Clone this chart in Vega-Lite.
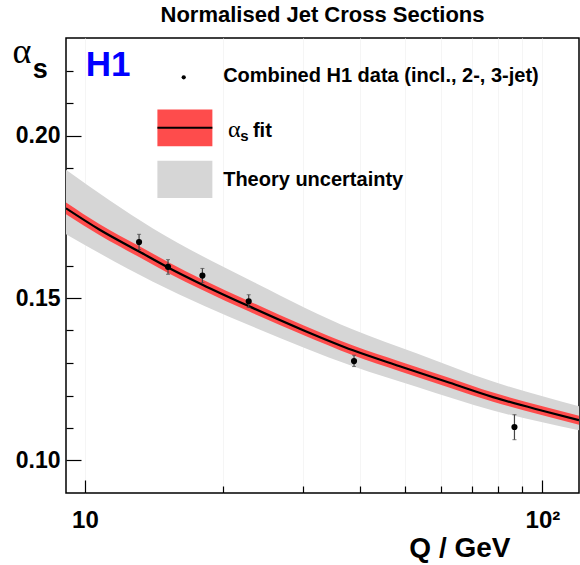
{
  "$schema": "https://vega.github.io/schema/vega-lite/v6.json",
  "width": 513,
  "height": 455,
  "autosize": {"type": "none"},
  "padding": {"left": 66, "top": 38, "right": 1, "bottom": 72},
  "background": "white",
  "config": {
    "view": {"stroke": "black", "strokeWidth": 1.5},
    "font": "Liberation Sans",
    "axis": {"labelOverlap": false, "labelSeparation": 0}
  },
  "title": {
    "text": "Normalised Jet Cross Sections",
    "font": "Liberation Sans",
    "fontSize": 22,
    "fontWeight": "bold",
    "color": "black",
    "anchor": "middle",
    "frame": "group",
    "baseline": "alphabetic",
    "offset": 16,
    "dy": 27
  },
  "datasets": {
    "band": [
      {"Q": 9.09, "lo": 0.1696, "hi": 0.1895},
      {"Q": 14.08, "lo": 0.1550, "hi": 0.1714},
      {"Q": 23.7, "lo": 0.1407, "hi": 0.1545},
      {"Q": 38.54, "lo": 0.1290, "hi": 0.1403},
      {"Q": 53.03, "lo": 0.1227, "hi": 0.1330},
      {"Q": 77.98, "lo": 0.1154, "hi": 0.1243},
      {"Q": 120.2, "lo": 0.1093, "hi": 0.1167}
    ],
    "fit": [
      {"Q": 9.09, "a": 0.1776, "lo": 0.1758, "hi": 0.1794},
      {"Q": 10.77, "a": 0.1710, "lo": 0.1693, "hi": 0.1727},
      {"Q": 13.13, "a": 0.1643, "lo": 0.1626, "hi": 0.1660},
      {"Q": 15.19, "a": 0.1594, "lo": 0.1577, "hi": 0.1611},
      {"Q": 18.06, "a": 0.1541, "lo": 0.1525, "hi": 0.1557},
      {"Q": 22.8, "a": 0.1475, "lo": 0.1459, "hi": 0.1491},
      {"Q": 30, "a": 0.1401, "lo": 0.1386, "hi": 0.1416},
      {"Q": 38.54, "a": 0.1339, "lo": 0.1324, "hi": 0.1354},
      {"Q": 48.75, "a": 0.1290, "lo": 0.1275, "hi": 0.1305},
      {"Q": 62.7, "a": 0.1239, "lo": 0.1224, "hi": 0.1254},
      {"Q": 77.98, "a": 0.1195, "lo": 0.1181, "hi": 0.1209},
      {"Q": 100, "a": 0.1153, "lo": 0.1139, "hi": 0.1167},
      {"Q": 120.2, "a": 0.1124, "lo": 0.1110, "hi": 0.1138}
    ],
    "points": [
      {"Q": 13.13, "a": 0.1672, "lo": 0.1649, "hi": 0.1696},
      {"Q": 15.19, "a": 0.1596, "lo": 0.1573, "hi": 0.1618},
      {"Q": 18.06, "a": 0.1569, "lo": 0.1547, "hi": 0.1591},
      {"Q": 22.8, "a": 0.1490, "lo": 0.1471, "hi": 0.1510},
      {"Q": 38.74, "a": 0.1306, "lo": 0.1289, "hi": 0.1324},
      {"Q": 86.86, "a": 0.1103, "lo": 0.1064, "hi": 0.1141}
    ]
  },
  "layer": [
    {
      "data": {"name": "band"},
      "mark": {"type": "area", "color": "#d6d6d6", "interpolate": "monotone", "clip": true},
      "encoding": {
        "x": {
          "field": "Q", "type": "quantitative", "title": "Q / GeV",
          "scale": {"type": "log", "domain": [9.09, 120.2], "nice": false},
          "axis": {
            "values": [10, 20, 30, 40, 50, 60, 70, 80, 90, 100],
            "tickCount": 50,
            "labelExpr": "datum.value == 10 ? '10' : (datum.value == 100 ? '10²' : '')",
            "labelFont": "Liberation Sans",
            "labelFontSize": 24,
            "labelFontWeight": "bold",
            "labelColor": "black",
            "labelBaseline": "alphabetic",
            "labelPadding": 47,
            "labelFlush": false,
            "labelOverlap": false,
            "tickSize": {"condition": {"test": "datum.value == 10 || datum.value == 100", "value": -13}, "value": -7},
            "tickColor": "black",
            "tickWidth": 1.2,
            "domain": false,
            "grid": true,
            "gridColor": "#f5f5f5",
            "gridWidth": 1,
            "titleFont": "Liberation Sans",
            "titleFontSize": 28,
            "titleFontWeight": "bold",
            "titleColor": "black",
            "titleAlign": "right",
            "titleBaseline": "alphabetic",
            "titleX": 444,
            "titleY": 63
          }
        },
        "y": {
          "field": "lo", "type": "quantitative", "title": "α",
          "scale": {"domain": [0.09, 0.23], "nice": false, "zero": false},
          "axis": {
            "titleAngle": 0,
            "titleFont": "Liberation Serif",
            "titleFontSize": 36,
            "titleFontWeight": "normal",
            "titleColor": "black",
            "titleAlign": "left",
            "titleBaseline": "alphabetic",
            "titleX": -54,
            "titleY": 24,
            "values": [0.10, 0.11, 0.12, 0.13, 0.14, 0.15, 0.16, 0.17, 0.18, 0.19, 0.20, 0.21, 0.22],
            "tickCount": 50,
            "labelExpr": "(abs(datum.value - 0.1) < 0.001 || abs(datum.value - 0.15) < 0.001 || abs(datum.value - 0.2) < 0.001) ? format(datum.value, '.2f') : ''",
            "labelFont": "Liberation Sans",
            "labelFontSize": 23,
            "labelFontWeight": "bold",
            "labelColor": "black",
            "labelPadding": 21,
            "labelBaseline": "middle",
            "labelOverlap": false,
            "labelFlush": false,
            "tickSize": {"condition": {"test": "abs(datum.value - 0.1) < 0.001 || abs(datum.value - 0.15) < 0.001 || abs(datum.value - 0.2) < 0.001", "value": -15}, "value": -7},
            "tickColor": "black",
            "tickWidth": 1.2,
            "domain": false,
            "grid": false
          }
        },
        "y2": {"field": "hi"}
      }
    },
    {
      "data": {"name": "fit"},
      "mark": {"type": "area", "color": "#fe4c4c", "interpolate": "monotone", "clip": true},
      "encoding": {
        "x": {"field": "Q", "type": "quantitative", "title": "Q / GeV"},
        "y": {"field": "lo", "type": "quantitative", "title": "α"},
        "y2": {"field": "hi"}
      }
    },
    {
      "data": {"name": "fit"},
      "mark": {"type": "line", "color": "black", "strokeWidth": 2.2, "interpolate": "monotone", "clip": true},
      "encoding": {
        "x": {"field": "Q", "type": "quantitative", "title": "Q / GeV"},
        "y": {"field": "a", "type": "quantitative", "title": "α"}
      }
    },
    {
      "data": {"name": "points"},
      "mark": {"type": "rule", "color": "#444444", "strokeWidth": 1.2},
      "encoding": {
        "x": {"field": "Q", "type": "quantitative", "title": "Q / GeV"},
        "y": {"field": "lo", "type": "quantitative", "title": "α"},
        "y2": {"field": "hi"}
      }
    },
    {
      "data": {"name": "points"},
      "mark": {"type": "tick", "orient": "horizontal", "color": "#444444", "size": 4, "thickness": 1},
      "encoding": {
        "x": {"field": "Q", "type": "quantitative", "title": "Q / GeV"},
        "y": {"field": "lo", "type": "quantitative", "title": "α"}
      }
    },
    {
      "data": {"name": "points"},
      "mark": {"type": "tick", "orient": "horizontal", "color": "#444444", "size": 4, "thickness": 1},
      "encoding": {
        "x": {"field": "Q", "type": "quantitative", "title": "Q / GeV"},
        "y": {"field": "hi", "type": "quantitative", "title": "α"}
      }
    },
    {
      "data": {"name": "points"},
      "mark": {"type": "point", "filled": true, "color": "black", "size": 38, "opacity": 1},
      "encoding": {
        "x": {"field": "Q", "type": "quantitative", "title": "Q / GeV"},
        "y": {"field": "a", "type": "quantitative", "title": "α"}
      }
    },
    {
      "data": {"values": [{"Q": 16.44, "a": 0.2179}]},
      "mark": {"type": "point", "filled": true, "color": "black", "size": 18, "opacity": 1},
      "encoding": {
        "x": {"field": "Q", "type": "quantitative", "title": "Q / GeV"},
        "y": {"field": "a", "type": "quantitative", "title": "α"}
      }
    },
    {
      "data": {"values": [{"x1": 14.40, "x2": 18.99, "y1": 0.19671, "y2": 0.2080}]},
      "mark": {"type": "rect", "color": "#fe4c4c"},
      "encoding": {
        "x": {"field": "x1", "type": "quantitative", "title": "Q / GeV"},
        "x2": {"field": "x2"},
        "y": {"field": "y1", "type": "quantitative", "title": "α"},
        "y2": {"field": "y2"}
      }
    },
    {
      "data": {"values": [{"x1": 14.40, "x2": 18.99, "y1": 0.20236}]},
      "mark": {"type": "rule", "color": "black", "strokeWidth": 2},
      "encoding": {
        "x": {"field": "x1", "type": "quantitative", "title": "Q / GeV"},
        "x2": {"field": "x2"},
        "y": {"field": "y1", "type": "quantitative", "title": "α"}
      }
    },
    {
      "data": {"values": [{"x1": 14.40, "x2": 18.99, "y1": 0.18078, "y2": 0.19226}]},
      "mark": {"type": "rect", "color": "#d6d6d6"},
      "encoding": {
        "x": {"field": "x1", "type": "quantitative", "title": "Q / GeV"},
        "x2": {"field": "x2"},
        "y": {"field": "y1", "type": "quantitative", "title": "α"},
        "y2": {"field": "y2"}
      }
    },
    {
      "data": {"values": [
        {"Q": 20.05, "a": 0.21643, "t": "Combined H1 data (incl., 2-, 3-jet)"},
        {"Q": 23.29, "a": 0.1995, "t": "fit"},
        {"Q": 20.05, "a": 0.18434, "t": "Theory uncertainty"}
      ]},
      "mark": {"type": "text", "align": "left", "baseline": "alphabetic", "font": "Liberation Sans", "fontSize": 20, "fontWeight": "bold", "color": "black"},
      "encoding": {
        "x": {"field": "Q", "type": "quantitative", "title": "Q / GeV"},
        "y": {"field": "a", "type": "quantitative", "title": "α"},
        "text": {"field": "t"}
      }
    },
    {
      "data": {"values": [{"Q": 20.54, "a": 0.1995, "t": "α"}]},
      "mark": {"type": "text", "align": "left", "baseline": "alphabetic", "font": "Liberation Serif", "fontSize": 24, "color": "black"},
      "encoding": {
        "x": {"field": "Q", "type": "quantitative", "title": "Q / GeV"},
        "y": {"field": "a", "type": "quantitative", "title": "α"},
        "text": {"field": "t"}
      }
    },
    {
      "data": {"values": [{"Q": 21.86, "a": 0.19825, "t": "s"}]},
      "mark": {"type": "text", "align": "left", "baseline": "alphabetic", "font": "Liberation Sans", "fontSize": 15, "fontWeight": "bold", "color": "black"},
      "encoding": {
        "x": {"field": "Q", "type": "quantitative", "title": "Q / GeV"},
        "y": {"field": "a", "type": "quantitative", "title": "α"},
        "text": {"field": "t"}
      }
    },
    {
      "data": {"values": [{"Q": 7.69, "a": 0.21771, "t": "s"}]},
      "mark": {"type": "text", "align": "left", "baseline": "alphabetic", "font": "Liberation Sans", "fontSize": 27, "fontWeight": "bold", "color": "black"},
      "encoding": {
        "x": {"field": "Q", "type": "quantitative", "title": "Q / GeV"},
        "y": {"field": "a", "type": "quantitative", "title": "α"},
        "text": {"field": "t"}
      }
    },
    {
      "data": {"values": [{"Q": 10.035, "a": 0.21842, "t": "H1"}]},
      "mark": {"type": "text", "align": "left", "baseline": "alphabetic", "font": "Liberation Sans", "fontSize": 35, "fontWeight": "bold", "color": "#0000ff"},
      "encoding": {
        "x": {"field": "Q", "type": "quantitative", "title": "Q / GeV"},
        "y": {"field": "a", "type": "quantitative", "title": "α"},
        "text": {"field": "t"}
      }
    }
  ]
}
